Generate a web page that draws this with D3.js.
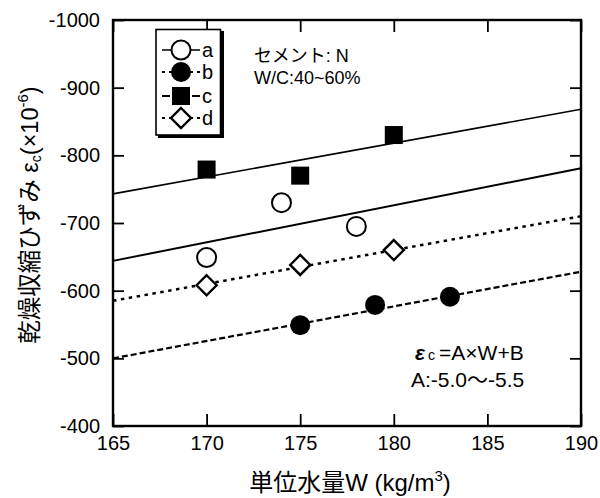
<!DOCTYPE html>
<html><head><meta charset="utf-8">
<script src="https://cdn.jsdelivr.net/npm/d3@7"></script>
<style>
body{margin:0;background:#fff;}
text{font-family:"Liberation Sans",Arial,"Noto Sans CJK JP",sans-serif;fill:#000;}
.jp{font-family:"Liberation Sans","Noto Sans CJK JP",sans-serif;}
</style></head>
<body><svg id="c" width="600" height="498"></svg>
<script>
// ---- data ----
const xTicks = [165, 170, 175, 180, 185, 190];
const yTicks = [-1000, -900, -800, -700, -600, -500, -400];
const seriesNames = ["a", "b", "c", "d"];
const aX = [170, 174, 178];
const aY = [-649, -730, -695];
const bX = [175, 179, 183];
const bY = [-549, -579, -591];
const cX = [170, 175, 180];
const cY = [-779, -770, -830];
const dX = [170, 175, 180];
const dY = [-608, -638, -660];
// regression lines at W = 165 and W = 190
const lineX = [165, 190];
const aLine = [-644, -781];
const bLine = [-500, -628];
const cLine = [-743, -868];
const dLine = [-585, -710];

const svg = d3.select("#c");
const L = 113, R = 581, T = 20, B = 426;
const x = d3.scaleLinear().domain([165, 190]).range([L, R]);
const y = d3.scaleLinear().domain([-1000, -400]).range([T, B]);

const g = svg.append("g");

// regression lines
const lineStyles = {
  a: {data: aLine, w: 2, dash: null},
  b: {data: bLine, w: 2.2, dash: "6,3"},
  c: {data: cLine, w: 1.6, dash: null},
  d: {data: dLine, w: 2.5, dash: "3.5,4.5"}
};
const lg = d3.line().x(d => x(d[0])).y(d => y(d[1]));
for (const k of seriesNames) {
  const s = lineStyles[k];
  g.append("path").attr("d", lg(lineX.map((v, i) => [v, s.data[i]])))
    .attr("fill", "none").attr("stroke", "#000").attr("stroke-width", s.w)
    .attr("stroke-dasharray", s.dash);
}

// axes (inward ticks, mirrored)
const fmt = d => String(d);
const axB = d3.axisBottom(x).tickValues(xTicks).tickSize(-12).tickPadding(10).tickFormat(fmt);
const axT = d3.axisTop(x).tickValues(xTicks).tickSize(-12).tickFormat("");
const axLft = d3.axisLeft(y).tickValues(yTicks).tickSize(-11).tickPadding(13).tickFormat(fmt);
const axRt = d3.axisRight(y).tickValues(yTicks).tickSize(-11).tickFormat("");
function style(sel){
  sel.selectAll(".domain").remove();
  sel.selectAll(".tick line").attr("stroke", "#000").attr("stroke-width", 1.8);
  sel.selectAll(".tick text").style("font-size", "20px").attr("fill", "#000");
}
g.append("g").attr("transform", `translate(0,${B})`).call(axB).call(style);
g.append("g").attr("transform", `translate(0,${T})`).call(axT).call(style);
g.append("g").attr("transform", `translate(${L},0)`).call(axLft).call(style);
g.append("g").attr("transform", `translate(${R},0)`).call(axRt).call(style);
// frame
g.append("rect").attr("x", L).attr("y", T).attr("width", R - L).attr("height", B - T)
  .attr("fill", "none").attr("stroke", "#000").attr("stroke-width", 2.4);

// markers
function drawMarker(sel, type, cx, cy) {
  if (type === "a") sel.append("circle").attr("cx", cx).attr("cy", cy).attr("r", 9.5).attr("fill", "#fff").attr("stroke", "#000").attr("stroke-width", 2);
  if (type === "b") sel.append("circle").attr("cx", cx).attr("cy", cy).attr("r", 10).attr("fill", "#000");
  if (type === "c") sel.append("rect").attr("x", cx - 9).attr("y", cy - 9).attr("width", 18).attr("height", 18).attr("fill", "#000");
  if (type === "d") sel.append("path").attr("d", `M${cx},${cy-10}L${cx+10},${cy}L${cx},${cy+10}L${cx-10},${cy}Z`).attr("fill", "#fff").attr("stroke", "#000").attr("stroke-width", 2.4);
}
const pts = {a: [aX, aY], b: [bX, bY], c: [cX, cY], d: [dX, dY]};
for (const k of seriesNames) {
  const [xs, ys] = pts[k];
  xs.forEach((v, i) => drawMarker(g, k, x(v), y(ys[i])));
}

// legend
const lgG = svg.append("g");
lgG.append("rect").attr("x", 158).attr("y", 31).attr("width", 66).attr("height", 107).attr("fill", "#000");
lgG.append("rect").attr("x", 156).attr("y", 29.5).attr("width", 64.5).attr("height", 105.5).attr("fill", "#fff").attr("stroke", "#000").attr("stroke-width", 1.6);
const legY = [50, 72, 96, 118];
seriesNames.forEach((k, i) => {
  const yy = legY[i];
  lgG.append("line").attr("x1", 162).attr("x2", 200).attr("y1", yy).attr("y2", yy)
    .attr("stroke", "#000").attr("stroke-width", k === "a" ? 1.6 : 2)
    .attr("stroke-dasharray", k === "a" ? null : (k === "c" ? "8,2" : "3,4"));
  drawMarker(lgG, k, 181, yy);
  lgG.append("text").attr("x", 202).attr("y", yy + 7).style("font-size", "20px").text(k);
});

// annotations
svg.append("text").attr("class", "jp").attr("x", 254).attr("y", 62).style("font-size", "18px").text("セメント: N");
svg.append("text").attr("x", 254).attr("y", 84).style("font-size", "18px").text("W/C:40~60%");
const eq = svg.append("text").attr("x", 415).attr("y", 360).style("font-size", "21px");
eq.append("tspan").style("font-style", "italic").style("font-weight", "bold").text("ε");
eq.append("tspan").style("font-size", "14px").attr("dx", 3).text("c");
eq.append("tspan").attr("dx", 4).text("=A×W+B");
svg.append("text").attr("class", "jp").attr("x", 411).attr("y", 387).style("font-size", "21px").text("A:-5.0～-5.5");

// axis titles
const xt = svg.append("text").attr("class", "jp").attr("x", 350).attr("y", 491).attr("text-anchor", "middle").style("font-size", "24px");
xt.append("tspan").text("単位水量W (kg/m");
xt.append("tspan").attr("dy", -10).style("font-size", "15px").text("3");
xt.append("tspan").attr("dy", 10).text(")");

const yt = svg.append("text").attr("class", "jp").attr("transform", "translate(38,215) rotate(-90)").attr("text-anchor", "middle").style("font-size", "23.5px");
yt.append("tspan").text("乾燥収縮ひずみ ε");
yt.append("tspan").style("font-size", "14px").attr("dy", 3).text("c");
yt.append("tspan").attr("dy", -3).text("(×10");
yt.append("tspan").style("font-size", "15px").attr("dy", -10).text("-6");
yt.append("tspan").attr("dy", 10).text(")");
</script></body></html>
